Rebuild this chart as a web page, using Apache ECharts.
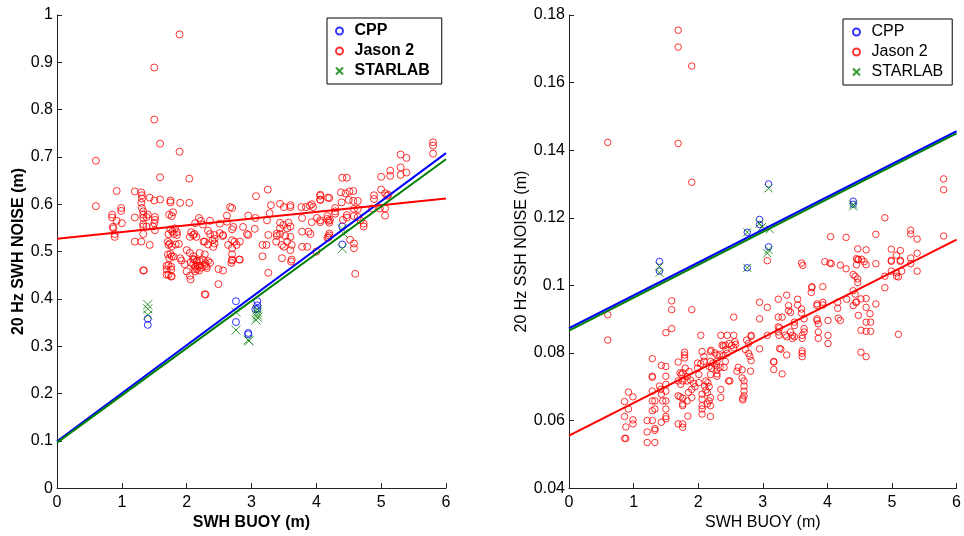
<!DOCTYPE html>
<html><head><meta charset="utf-8">
<script src="https://cdn.jsdelivr.net/npm/echarts@6/dist/echarts.min.js"></script>
<style>html,body{margin:0;padding:0;background:#fff}#c{width:964px;height:536px}</style>
</head><body><div id="c"></div>
<script>
// ---------- data ----------
var seriesNames = ['CPP', 'Jason 2', 'STARLAB'];
var xTicks = [0, 1, 2, 3, 4, 5, 6];
var leftYTicks = [0, 0.1, 0.2, 0.3, 0.4, 0.5, 0.6, 0.7, 0.8, 0.9, 1];
var rightYTicks = [0.04, 0.06, 0.08, 0.10, 0.12, 0.14, 0.16, 0.18];

var leftCpp = [[1.40,0.358],[1.40,0.345],[2.76,0.395],[2.76,0.351],[2.95,0.328],[2.95,0.325],[3.09,0.395],[3.09,0.386],[3.09,0.379],[3.06,0.378],[4.40,0.553],[4.40,0.515]];
var leftStarlab = [[1.40,0.388],[1.40,0.379],[1.40,0.366],[2.76,0.372],[2.76,0.334],[2.95,0.313],[2.96,0.311],[3.09,0.378],[3.09,0.372],[3.09,0.366],[3.07,0.355],[3.09,0.361],[4.40,0.548],[4.42,0.538],[4.40,0.506]];
var leftJason = [[0.60,0.692],[0.60,0.596],[1.50,0.889],[1.89,0.959],[1.50,0.779],[1.59,0.728],[1.89,0.711],[1.59,0.657],[2.04,0.654],
[0.92,0.628],[1.20,0.627],[1.30,0.625],[1.31,0.619],[1.31,0.612],[1.30,0.603],[1.31,0.592],[1.33,0.585],[1.43,0.614],[1.50,0.608],[1.59,0.610],[1.75,0.608],[1.75,0.604],[1.90,0.603],[2.04,0.603],[1.79,0.583],[1.73,0.578],[1.77,0.575],[0.99,0.592],[0.99,0.586],[0.85,0.578],[0.85,0.572],[0.92,0.565],[1.00,0.560],[1.20,0.572],[1.33,0.578],[1.33,0.571],[1.38,0.573],[1.40,0.578],[1.51,0.573],[1.51,0.567],[1.50,0.560],[1.33,0.558],[1.33,0.553],[1.38,0.553],[1.48,0.553],[1.51,0.545],[0.87,0.549],[0.89,0.537],[0.89,0.531],[0.86,0.552],[1.33,0.537],[1.20,0.521],[1.30,0.521],[1.43,0.514],[1.33,0.460],
[1.75,0.547],[1.78,0.542],[1.82,0.549],[1.85,0.541],[1.80,0.537],[1.85,0.535],[1.72,0.537],[1.71,0.521],[1.72,0.514],[1.74,0.517],[1.77,0.511],[1.83,0.515],[1.88,0.516],[1.71,0.494],[1.75,0.495],[1.77,0.490],[1.80,0.489],[1.73,0.486],[1.72,0.471],[1.76,0.468],[1.72,0.451],[1.77,0.448],
[2.07,0.541],[2.10,0.535],[2.12,0.537],[2.15,0.531],[2.05,0.531],[2.19,0.571],[2.13,0.560],[2.25,0.557],[2.33,0.544],[2.26,0.521],[2.33,0.515],[2.00,0.503],[2.05,0.497],[2.10,0.490],[2.12,0.483],[2.15,0.478],[2.10,0.473],[2.17,0.470],[2.12,0.463],[2.19,0.460],[2.05,0.449],[1.97,0.473],[2.28,0.410],
[3.25,0.631],[3.07,0.617],[3.30,0.598],[3.60,0.598],[3.60,0.594],[3.50,0.594],[4.06,0.620],[4.06,0.610],[4.18,0.614],[3.84,0.594],[3.93,0.600],[3.95,0.594],[2.70,0.592],[2.62,0.576],[2.95,0.576],[3.06,0.571],[3.28,0.581],[3.24,0.566],[3.78,0.571],[3.93,0.562],[4.01,0.571],[4.06,0.562],[2.36,0.565],[2.62,0.563],[3.44,0.561],[3.49,0.556],[3.57,0.561],[3.60,0.553],[3.55,0.549],[3.44,0.549],[3.39,0.538],[2.70,0.547],[3.05,0.548],[2.36,0.537],[2.43,0.535],[2.51,0.539],[2.56,0.535],[2.28,0.521],[2.40,0.524],[2.43,0.517],[2.41,0.510],[2.56,0.533],[2.43,0.527],[2.70,0.524],[2.74,0.521],[2.82,0.521],[2.77,0.514],[2.70,0.507],[2.64,0.514],[2.93,0.537],[2.95,0.535],[3.17,0.514],[3.23,0.514],[3.26,0.535],[3.39,0.533],[3.44,0.537],[3.52,0.533],[3.38,0.521],[3.47,0.514],[3.55,0.521],[3.60,0.531],[3.62,0.514],[3.60,0.503],[3.50,0.510],[3.62,0.483],[3.78,0.542],[3.88,0.542],[3.91,0.537],[3.78,0.510],[3.86,0.510],[4.20,0.534],[4.19,0.530],[4.21,0.567],[4.19,0.565],[2.20,0.497],[2.28,0.494],[2.25,0.483],[2.33,0.480],[2.28,0.472],[2.23,0.466],[2.30,0.469],[2.20,0.480],[2.70,0.494],[2.70,0.483],[2.82,0.483],[2.49,0.463],[2.56,0.460],[3.17,0.490],[3.26,0.455],[2.29,0.409],[4.00,0.500],
[5.80,0.731],[5.80,0.724],[5.80,0.707],[5.30,0.705],[5.39,0.698],[5.30,0.678],[5.30,0.662],[5.39,0.667],[5.14,0.671],[5.14,0.660],[5.00,0.658],[4.40,0.656],[4.47,0.656],[4.06,0.618],[4.20,0.613],[4.06,0.609],[4.38,0.625],[4.45,0.623],[4.51,0.627],[4.57,0.628],[4.50,0.609],[4.57,0.607],[4.64,0.607],[4.39,0.604],[4.89,0.619],[4.89,0.611],[5.00,0.631],[5.06,0.623],[5.09,0.618],[5.11,0.620],[4.29,0.592],[4.29,0.585],[4.29,0.580],[4.06,0.566],[4.17,0.575],[4.17,0.569],[4.20,0.561],[4.47,0.577],[4.47,0.572],[4.41,0.567],[4.58,0.590],[4.64,0.590],[4.58,0.575],[4.64,0.573],[4.68,0.566],[4.73,0.559],[4.73,0.553],[4.86,0.591],[4.98,0.591],[5.06,0.591],[5.06,0.576],[4.20,0.538],[4.17,0.529],[4.52,0.525],[4.58,0.517],[4.58,0.507],[4.60,0.453],
[1.34,0.460],[1.69,0.470],[1.69,0.462],[1.69,0.451],[1.76,0.462],[1.76,0.447],[1.90,0.486],[1.92,0.481],[2.00,0.458],[2.06,0.477],[2.06,0.441],[2.13,0.468],[2.13,0.458],[2.16,0.463],[2.20,0.470],[2.10,0.484],[2.16,0.481],[2.29,0.476],[2.31,0.465],[2.36,0.476],[2.49,0.431],[2.69,0.476],[2.70,0.481],[2.81,0.483],[3.47,0.486],[3.61,0.479],
[2.22,0.565],[2.51,0.559],[2.72,0.552],[2.87,0.552],[2.67,0.594],[3.44,0.601],[3.77,0.594],[3.90,0.597]];

var rightCpp = [[1.40,0.1071],[1.40,0.1042],[2.76,0.1157],[2.76,0.1052],[2.95,0.1195],[2.95,0.1180],[3.09,0.1300],[3.09,0.1114],[4.40,0.1249],[4.40,0.1240]];
var rightStarlab = [[1.40,0.1056],[1.40,0.1037],[2.76,0.1157],[2.76,0.1052],[2.95,0.1183],[2.99,0.1173],[3.11,0.1166],[3.09,0.1287],[3.07,0.1095],[3.09,0.1105],[4.40,0.1239],[4.40,0.1233]];
var rightJason = [[1.69,0.1755],[1.69,0.1705],[1.90,0.1649],[0.60,0.1423],[1.69,0.1420],[1.90,0.1305],[5.80,0.1315],[5.80,0.1283],[5.80,0.1146],[4.89,0.1200],[4.05,0.1144],[4.29,0.1142],[4.75,0.1151],[5.29,0.1163],[5.29,0.1152],[5.39,0.1137],[4.47,0.1108],[4.60,0.1105],[4.99,0.1107],[5.13,0.1103],[5.07,0.1089],[5.39,0.1095],[4.47,0.1076],[4.99,0.1074],[5.13,0.1074],[3.07,0.1073],[3.60,0.1066],[3.62,0.1059],
[0.60,0.0913],[0.60,0.0838],[0.86,0.0547],[0.88,0.0547],[0.86,0.0656],[0.92,0.0684],[0.92,0.0634],[0.86,0.0612],[0.88,0.0581],[0.99,0.0602],[0.99,0.0590],[0.99,0.0670],[1.21,0.0600],[1.21,0.0566],[1.21,0.0535],[1.33,0.0535],[1.29,0.0783],[1.29,0.0731],[1.29,0.0728],[1.29,0.0687],[1.29,0.0658],[1.33,0.0658],[1.29,0.0629],[1.33,0.0634],[1.29,0.0600],[1.33,0.0576],[1.33,0.0571],[1.40,0.0702],[1.42,0.0692],[1.45,0.0658],[1.43,0.0678],[1.43,0.0763],[1.50,0.0760],[1.50,0.0731],[1.50,0.0707],[1.50,0.0687],[1.50,0.0658],[1.50,0.0634],[1.50,0.0612],[1.50,0.0605],[1.43,0.0595],[1.50,0.0860],[1.59,0.0954],[1.59,0.0928],[1.59,0.0872],[1.90,0.0928],[1.69,0.0773],[1.72,0.0741],[1.76,0.0741],[1.74,0.0736],[1.69,0.0717],[1.76,0.0717],[1.73,0.0707],[1.69,0.0673],[1.72,0.0670],[1.76,0.0666],[1.69,0.0590],[1.76,0.0590],[1.76,0.0580],[1.76,0.0649],[1.76,0.0644],[1.79,0.0802],[1.79,0.0785],[1.79,0.0794],[1.83,0.0717],[1.85,0.0683],[1.83,0.0658],[1.84,0.0613],[1.90,0.0692],[1.90,0.0668],[1.99,0.0770],[1.99,0.0755],[2.01,0.0736],[2.01,0.0712],[2.04,0.0852],[2.06,0.0804],[2.09,0.0789],[2.09,0.0775],[2.06,0.0678],[2.06,0.0663],[2.06,0.0644],[2.06,0.0634],[2.06,0.0619],[2.14,0.0682],[2.17,0.0658],[2.14,0.0649],[2.19,0.0644],[2.19,0.0804],[2.19,0.0775],[2.17,0.0760],[2.21,0.0755],[2.19,0.0736],[2.19,0.0668],[2.19,0.0612],[2.29,0.0750],[2.29,0.0738],[2.29,0.0731],[2.29,0.0794],[2.29,0.0775],[2.35,0.0852],[2.37,0.0823],[2.39,0.0821],[2.35,0.0692],[2.35,0.0668],[2.45,0.0852],[2.47,0.0717],[2.49,0.0717],[2.42,0.0823],[2.45,0.0799],[2.42,0.0775],[2.55,0.0906],[2.55,0.0852],[2.57,0.0833],[2.58,0.0825],[2.60,0.0746],[2.62,0.0757],[2.68,0.0750],[2.68,0.0726],[2.71,0.0717],[2.71,0.0702],[2.71,0.0687],[2.71,0.0673],[2.69,0.0666],[2.69,0.0661],[2.78,0.0828],[2.78,0.0799],[2.81,0.0746],[2.82,0.0852],[2.82,0.0849],[2.82,0.0777],[2.95,0.0950],[2.95,0.0901],[2.95,0.0812],[3.07,0.0935],[3.07,0.0852],[3.17,0.0775],[3.17,0.0773],[3.17,0.0751],[3.24,0.0959],[3.24,0.0906],[3.24,0.0877],[3.24,0.0862],[3.25,0.0852],[3.26,0.0813],[3.28,0.0811],[3.30,0.0738],[3.30,0.0906],[3.37,0.0971],[3.40,0.0940],[3.40,0.0925],[3.43,0.0920],[3.37,0.0848],[3.37,0.0794],[3.43,0.0862],[3.46,0.0852],[3.46,0.0843],[3.49,0.0848],[3.49,0.0891],[3.49,0.0881],[3.54,0.0959],[3.54,0.0942],[3.60,0.0930],[3.60,0.0918],[3.64,0.0901],[3.64,0.0872],[3.64,0.0862],[3.61,0.0852],[3.61,0.0843],[3.61,0.0806],[3.61,0.0799],[3.61,0.0789],[3.75,0.0979],[3.76,0.0996],[3.76,0.0993],[3.84,0.0945],[3.84,0.0940],[3.84,0.0901],[3.84,0.0896],[3.86,0.0886],[3.86,0.0862],[3.86,0.0843],[3.93,0.0996],[3.93,0.0950],[3.93,0.0942],[4.01,0.0896],[4.01,0.0852],[4.01,0.0828],[4.04,0.1066],[4.06,0.1064],[4.16,0.0950],[4.16,0.0932],[4.17,0.0903],[4.20,0.0896],[4.30,0.0959],[4.29,0.1049],[4.40,0.0984],[4.40,0.0940],[4.43,0.0974],[4.44,0.0950],[4.45,0.0950],[4.40,0.1032],[4.43,0.1027],[4.45,0.1061],[4.48,0.1076],[4.47,0.1019],[4.47,0.1008],[4.48,0.0911],[4.52,0.0867],[4.52,0.0802],[4.60,0.1061],[4.60,0.0961],[4.60,0.0891],[4.60,0.0864],[4.60,0.0789],[4.66,0.0916],[4.67,0.0891],[4.67,0.0864],[4.75,0.1064],[4.75,0.0945],[4.89,0.1027],[4.89,0.0993],[4.99,0.1071],[4.99,0.1042],[5.07,0.1037],[5.07,0.1027],[5.10,0.1025],[5.10,0.0855],[5.13,0.1071],[5.15,0.1042],[5.29,0.1064],[5.39,0.1042],
[2.20,0.0808],[2.26,0.0800],[2.33,0.0795],[2.39,0.0792],[2.43,0.0810],[2.04,0.0768],[2.23,0.0770],[2.28,0.0762],[2.34,0.0757],[2.40,0.0757],[1.80,0.0755],[1.86,0.0745],[1.83,0.0730],[1.88,0.0720],[1.93,0.0710],[1.95,0.0700],[2.12,0.0717],[2.15,0.0712],[2.10,0.0702],[2.12,0.0690],[2.17,0.0700],[3.26,0.0874],[3.35,0.0853],[2.48,0.0828],[2.52,0.0822],[2.55,0.0815],[2.75,0.0838],[2.73,0.0810],[2.80,0.0790],[5.29,0.1081],[4.45,0.1079],[4.53,0.1077],[4.57,0.1070],[3.96,0.1070],[4.20,0.1060],[4.52,0.0960],[4.60,0.0935]];

// fitted lines: values at x = 0 and x = 6
var leftFitCpp = [[0, 0.099], [6, 0.708]];
var leftFitJason = [[0, 0.527], [6, 0.612]];
var leftFitStarlab = [[0, 0.096], [6, 0.695]];
var rightFitCpp = [[0, 0.0873], [6, 0.1456]];
var rightFitJason = [[0, 0.0555], [6, 0.1135]];
var rightFitStarlab = [[0, 0.0866], [6, 0.1450]];

// ---------- chart ----------
var FONT = '"Liberation Sans", Arial, Helvetica, sans-serif';
var BLUE = '#0000ff', RED = '#ff0000', GREEN = '#008000';
var CROSS = 'path://M0,0L10,10M10,0L0,10';

function scatter(name, data, idx, color, isCross, size) {
  return {
    type: 'scatter', name: name, data: data, xAxisIndex: idx, yAxisIndex: idx,
    symbol: isCross ? CROSS : 'circle', symbolSize: size,
    itemStyle: { color: 'rgba(0,0,0,0)', borderColor: color, borderWidth: 1 },
    emphasis: { disabled: true }, silent: true, z: 2
  };
}
function fit(data, idx, color) {
  return {
    type: 'line', data: data, xAxisIndex: idx, yAxisIndex: idx, symbol: 'none',
    lineStyle: { color: color, width: 2 }, silent: true, z: 3, animation: false
  };
}
function xAxis(idx, bold) {
  return {
    type: 'value', gridIndex: idx, min: xTicks[0], max: xTicks[xTicks.length - 1], interval: 1,
    name: 'SWH BUOY (m)', nameLocation: 'middle', nameGap: 20,
    nameTextStyle: { fontFamily: FONT, fontSize: 16, fontWeight: bold ? 'bold' : 'normal', color: '#000' },
    axisLine: { show: true, lineStyle: { color: '#222', width: 1 } },
    axisTick: { show: true, inside: true, length: 5, lineStyle: { color: '#222' } },
    axisLabel: { fontFamily: FONT, fontSize: 16, color: '#000', margin: 6 },
    splitLine: { show: false }
  };
}
function yAxis(idx, ticks, name, bold, gap) {
  return {
    type: 'value', gridIndex: idx, min: ticks[0], max: ticks[ticks.length - 1],
    interval: +(ticks[1] - ticks[0]).toFixed(4),
    name: name, nameLocation: 'middle', nameGap: gap,
    nameTextStyle: { fontFamily: FONT, fontSize: 16, fontWeight: bold ? 'bold' : 'normal', color: '#000' },
    axisLine: { show: true, lineStyle: { color: '#222', width: 1 } },
    axisTick: { show: true, inside: true, length: 5, lineStyle: { color: '#222' } },
    axisLabel: { fontFamily: FONT, fontSize: 16, color: '#000', margin: 4,
      formatter: function (v) { return String(+v.toFixed(4)); } },
    splitLine: { show: false }
  };
}
function legend(left, top, padding, bold, idxNames) {
  return {
    data: idxNames, orient: 'vertical', left: left, top: top, padding: padding,
    itemWidth: 20, itemHeight: 7, itemGap: 0,
    borderColor: '#000', borderWidth: 1, backgroundColor: '#fff',
    textStyle: { fontFamily: FONT, fontSize: 16, fontWeight: bold ? 'bold' : 'normal', color: '#000', lineHeight: 20 },
    formatter: function (n) { return n.slice(2); },
    selectedMode: false
  };
}

var chart = echarts.init(document.getElementById('c'), null, { renderer: 'canvas' });
chart.setOption({
  animation: false,
  backgroundColor: '#fff',
  grid: [
    { left: 57, top: 15, width: 389, height: 480 },
    { left: 569, top: 15, width: 389.5, height: 480 }
  ],
  xAxis: [xAxis(0, true), xAxis(1, false)],
  yAxis: [yAxis(0, leftYTicks, '20 Hz SWH NOISE (m)', true, 29), yAxis(1, rightYTicks, '20 Hz SSH NOISE (m)', false, 38)],
  legend: [
    legend(327, 18, [3, 12, 3, 8], true, ['L_CPP', 'L_Jason 2', 'L_STARLAB']),
    legend(843, 19, [3, 9, 3, 9], false, ['R_CPP', 'R_Jason 2', 'R_STARLAB'])
  ],
  series: [
    scatter('L_' + seriesNames[0], leftCpp, 0, BLUE, false, 7),
    scatter('L_' + seriesNames[1], leftJason, 0, RED, false, 7),
    scatter('L_' + seriesNames[2], leftStarlab, 0, GREEN, true, 9),
    fit(leftFitCpp, 0, BLUE), fit(leftFitJason, 0, RED), fit(leftFitStarlab, 0, GREEN),
    scatter('R_' + seriesNames[0], rightCpp, 1, BLUE, false, 6.5),
    scatter('R_' + seriesNames[1], rightJason, 1, RED, false, 6.5),
    scatter('R_' + seriesNames[2], rightStarlab, 1, GREEN, true, 8),
    fit(rightFitCpp, 1, BLUE), fit(rightFitJason, 1, RED), fit(rightFitStarlab, 1, GREEN)
  ]
});
</script>
</body></html>
